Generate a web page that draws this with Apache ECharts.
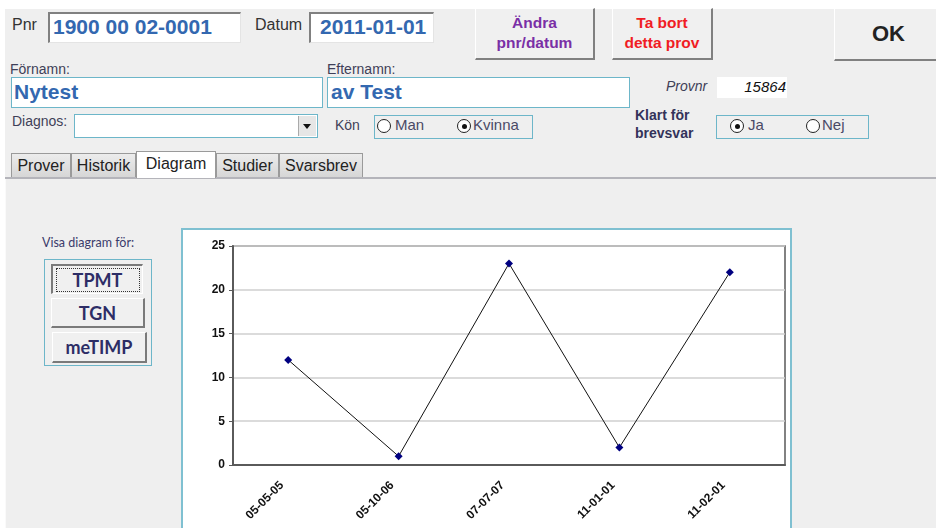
<!DOCTYPE html>
<html>
<head>
<meta charset="utf-8">
<script src="https://cdn.jsdelivr.net/npm/echarts@6/dist/echarts.min.js"></script>
<style>
    html, body { margin: 0; padding: 0; width: 936px; height: 528px; overflow: hidden; background: #fff; }
    #form { position: absolute; left: 5px; top: 9px; width: 931px; height: 519px; background: #efefef; }
    .abs { position: absolute; font-family: "Liberation Sans", Arial, sans-serif; white-space: nowrap; }
    .lbl { color: #3f3f58; font-size: 14px; }
    .sunken { background: #fff; border-top: 2px solid #808080; border-left: 2px solid #808080; border-right: 1px solid #e4e4e4; border-bottom: 1px solid #e4e4e4; box-sizing: border-box; }
    .box { background: #fff; border: 1px solid #6db6c9; box-sizing: border-box; }
    .val { color: #3368b0; font-weight: bold; font-size: 21px; }
    .btn { background: #f0f0f0; border-top: 1px solid #fff; border-left: 1px solid #fff; border-right: 2px solid #808080; border-bottom: 2px solid #808080; box-sizing: border-box; text-align: center; font-weight: bold; }
    .radio { position: absolute; width: 12px; height: 12px; border: 1px solid #222; border-radius: 50%; background: #fff; }
    .radio.on::after { content: ""; position: absolute; left: 3.5px; top: 3.5px; width: 5px; height: 5px; border-radius: 50%; background: #111; }
    .tab { position: absolute; top: 153px; height: 24px; box-sizing: border-box; border: 1px solid #9a9a9a; border-bottom: none; background: linear-gradient(#ececec, #d6d6d6); font-size: 16px; color: #222; text-align: center; line-height: 24px; }
    .tab.sel { top: 151px; height: 27px; background: #fff; line-height: 24px; z-index: 2; }
    .vbtn { position: absolute; font-family: Lato, "Open Sans", sans-serif; font-weight: bold; font-size: 18px; color: #2d2d66; text-align: center; background: #f0f0f0; box-sizing: border-box; border-top: 1px solid #fff; border-left: 1px solid #fff; border-right: 2px solid #7a7a7a; border-bottom: 2px solid #7a7a7a; }
    #chartFrame { position: absolute; left: 181px; top: 228px; width: 611px; height: 310px; border: 2px solid #7fc0d1; box-sizing: border-box; background: #fff; }
    #chart { position: absolute; left: 0; top: 0; width: 607px; height: 306px; }
</style>
</head>
<body>
<div id="form"></div>

<!-- top row -->
<div class="abs" style="left:12px;top:16px;font-size:16px;color:#333;">Pnr</div>
<div class="abs sunken" style="left:48px;top:12px;width:193px;height:31px;"></div>
<div class="abs val" style="left:53px;top:15px;">1900 00 02-0001</div>
<div class="abs" style="left:255px;top:16px;font-size:16px;color:#333;">Datum</div>
<div class="abs sunken" style="left:309px;top:12px;width:125px;height:31px;"></div>
<div class="abs val" style="left:320px;top:15px;">2011-01-01</div>

<div class="abs btn" style="left:475px;top:8px;width:120px;height:52px;color:#7a2fa6;font-size:15.5px;line-height:20px;padding-top:4px;">Ändra<br>pnr/datum</div>
<div class="abs btn" style="left:612px;top:8px;width:101px;height:52px;color:#f01c24;font-size:15.5px;line-height:20px;padding-top:4px;">Ta bort<br>detta prov</div>
<div class="abs btn" style="left:834px;top:8px;width:110px;height:53px;color:#222;font-size:22px;line-height:50px;">OK</div>

<!-- names -->
<div class="abs lbl" style="left:10px;top:61px;">Förnamn:</div>
<div class="abs box" style="left:11px;top:77px;width:312px;height:31px;"></div>
<div class="abs val" style="left:14px;top:80px;">Nytest</div>
<div class="abs lbl" style="left:327px;top:61px;">Efternamn:</div>
<div class="abs box" style="left:327px;top:77px;width:303px;height:31px;"></div>
<div class="abs val" style="left:331px;top:80px;">av Test</div>

<div class="abs lbl" style="left:666px;top:78px;font-style:italic;">Provnr</div>
<div class="abs" style="left:717px;top:77px;width:70px;height:21px;background:#fff;"></div>
<div class="abs" style="left:717px;top:78px;width:69px;text-align:right;font-size:15px;font-style:italic;color:#111;">15864</div>

<!-- diagnos / kön -->
<div class="abs lbl" style="left:12px;top:113px;">Diagnos:</div>
<div class="abs box" style="left:74px;top:114px;width:244px;height:24px;"></div>
<div class="abs" style="left:298px;top:116px;width:18px;height:20px;background:#e6e6e6;border-left:1px solid #aaa;box-sizing:border-box;"></div>
<div class="abs" style="left:303px;top:124px;width:0;height:0;border-left:4px solid transparent;border-right:4px solid transparent;border-top:5px solid #111;"></div>

<div class="abs lbl" style="left:335px;top:117px;">Kön</div>
<div class="abs box" style="left:374px;top:115px;width:159px;height:24px;background:transparent;"></div>
<div class="radio" style="left:377px;top:119px;"></div>
<div class="abs" style="left:395px;top:116px;font-size:15px;color:#4a4a66;">Man</div>
<div class="radio on" style="left:457px;top:119px;"></div>
<div class="abs" style="left:473px;top:116px;font-size:15px;color:#4a4a66;">Kvinna</div>

<div class="abs" style="left:635px;top:106px;font-size:14px;font-weight:bold;color:#33335a;line-height:18px;">Klart för<br>brevsvar</div>
<div class="abs box" style="left:716px;top:115px;width:153px;height:24px;background:transparent;"></div>
<div class="radio on" style="left:730px;top:119px;"></div>
<div class="abs" style="left:748px;top:116px;font-size:15px;color:#4a4a66;">Ja</div>
<div class="radio" style="left:806px;top:119px;"></div>
<div class="abs" style="left:822px;top:116px;font-size:15px;color:#4a4a66;">Nej</div>

<!-- tabs -->
<div class="abs" style="left:5px;top:177px;width:931px;height:2px;background:#b4b4ba;"></div>
<div class="abs" style="left:5px;top:179px;width:1px;height:349px;background:#fafafa;"></div>
<div class="tab abs" style="left:11px;width:60px;">Prover</div>
<div class="tab abs" style="left:71px;width:65px;">Historik</div>
<div class="tab abs sel" style="left:136px;width:80px;">Diagram</div>
<div class="tab abs" style="left:216px;width:63px;">Studier</div>
<div class="tab abs" style="left:279px;width:84px;">Svarsbrev</div>

<!-- diagram selector -->
<div class="abs" style="left:42px;top:235px;font-family:Lato,'Open Sans',sans-serif;font-size:12.5px;color:#3b3b6b;">Visa diagram för:</div>
<div class="abs" style="left:44px;top:259px;width:108px;height:107px;border:1px solid #6db6c9;box-sizing:border-box;"></div>
<div class="vbtn" style="left:51px;top:264px;width:92px;height:30px;line-height:28px;border-top:2px solid #7a7a7a;border-left:2px solid #7a7a7a;border-right:1px solid #fff;border-bottom:1px solid #fff;"><span style="display:inline-block;width:82px;border:1px dotted #333;line-height:22px;">TPMT</span></div>
<div class="vbtn" style="left:51px;top:298px;width:94px;height:30px;line-height:28px;">TGN</div>
<div class="vbtn" style="left:52px;top:332px;width:95px;height:31px;line-height:29px;">meTIMP</div>

<div id="chartFrame"><div id="chart"></div></div>

<script>
    // data
    var dates = ['05-05-05', '05-10-06', '07-07-07', '11-01-01', '11-02-01'];
    var values = [12, 1, 23, 2, 22];
    var yTicks = [0, 5, 10, 15, 20, 25];

    var myChart = echarts.init(document.getElementById('chart'));
    var option = {
        animation: false,
        grid: {
            left: 50,
            top: 16,
            width: 552,
            height: 219,
            show: true,
            borderColor: '#5a5a5a',
            borderWidth: 1.5
        },
        xAxis: {
            type: 'category',
            data: dates,
            boundaryGap: true,
            axisLine: { lineStyle: { color: '#5a5a5a', width: 2 } },
            axisTick: { show: false },
            axisLabel: {
                rotate: 45,
                margin: 12,
                padding: [0, 9, 0, 0],
                interval: 0,
                fontFamily: 'Liberation Sans',
                fontWeight: 'bold',
                fontSize: 12,
                color: '#111'
            }
        },
        yAxis: {
            type: 'value',
            min: yTicks[0],
            max: yTicks[yTicks.length - 1],
            interval: 5,
            axisLine: { show: true, lineStyle: { color: '#5a5a5a', width: 2 } },
            axisTick: { show: true, length: 4, lineStyle: { color: '#5a5a5a' } },
            axisLabel: {
                margin: 8,
                fontFamily: 'Liberation Sans',
                fontWeight: 'bold',
                fontSize: 12,
                color: '#111'
            },
            splitLine: { lineStyle: { color: '#cfcfcf', width: 1.5 } }
        },
        series: [
            {
                type: 'line',
                data: values,
                symbol: 'diamond',
                symbolSize: 8,
                lineStyle: { color: '#111', width: 1 },
                itemStyle: { color: '#000080' }
            }
        ]
    };
    myChart.setOption(option);
</script>
</body>
</html>
